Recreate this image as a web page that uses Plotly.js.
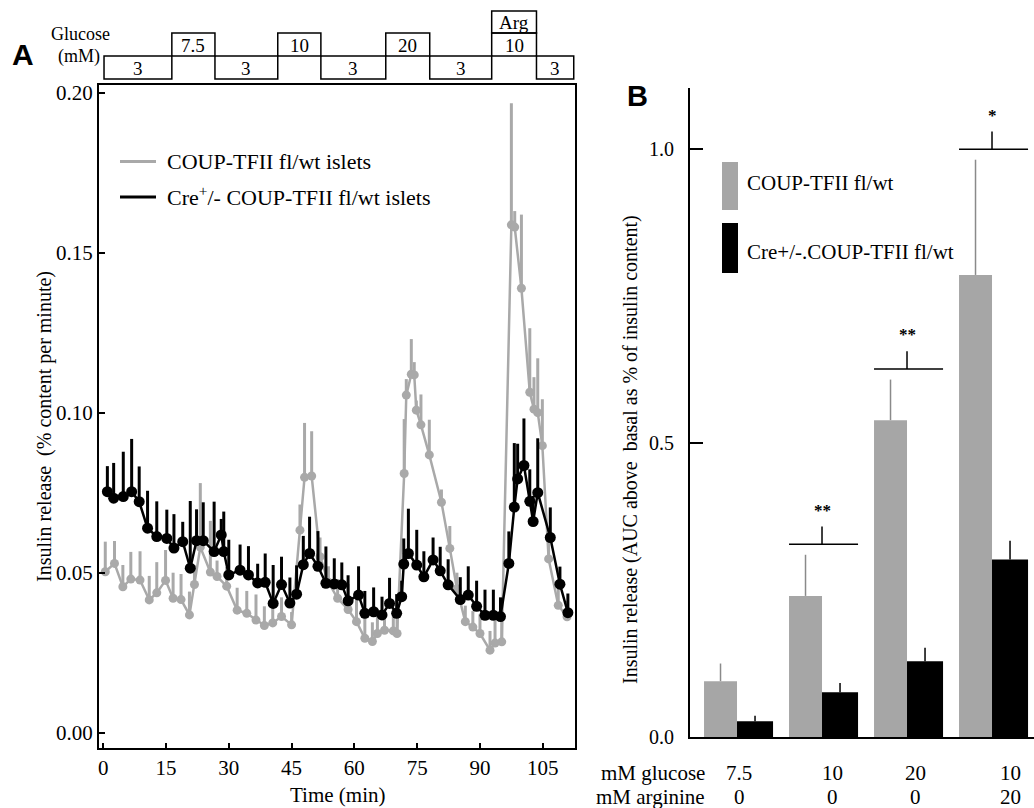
<!DOCTYPE html>
<html>
<head>
<meta charset="utf-8">
<script src="https://cdn.plot.ly/plotly-3.0.1.min.js"></script>
<style>html,body{margin:0;padding:0;background:#fff;}#chart{width:1034px;height:808px;}</style>
</head>
<body>
<div id="chart"></div>
<script>
// ---------- Panel A data (time in min, insulin release % content per minute) ----------
const wtT = [0.5, 2.7, 4.7, 6.6, 8.8, 11, 12.8, 14.9, 16.7, 18.6, 20.6, 21.8, 23.2, 25.6, 27.2, 29.5, 32, 34.3, 36.5, 38.5, 40.5, 42.6, 45, 47, 48.1, 49.8, 51.8, 53.8, 56, 58.5, 60.5, 62.5, 64.3, 65.5, 67.2, 69.3, 70.2, 71.9, 72.4, 73.6, 74.3, 74.8, 75.9, 77.9, 80.8, 82.8, 84.5, 86.5, 88.3, 90, 92.4, 93.6, 95.2, 97.5, 98.3, 99.9, 101.9, 102.9, 103.8, 104.9, 106.4, 108.7, 110.8];
const wtV = [0.0503, 0.0529, 0.0456, 0.0480, 0.0477, 0.0415, 0.0437, 0.0476, 0.0420, 0.0416, 0.0368, 0.0463, 0.0580, 0.0502, 0.0488, 0.0458, 0.0383, 0.0373, 0.0352, 0.0335, 0.0343, 0.0363, 0.0337, 0.0633, 0.0798, 0.0802, 0.0550, 0.0470, 0.0420, 0.0385, 0.0347, 0.0295, 0.0285, 0.0310, 0.0320, 0.0318, 0.0310, 0.0810, 0.1055, 0.1120, 0.1118, 0.1008, 0.0962, 0.0868, 0.0720, 0.0576, 0.0450, 0.0347, 0.0330, 0.0310, 0.0258, 0.0280, 0.0284, 0.1587, 0.1580, 0.1389, 0.1064, 0.1011, 0.1000, 0.0897, 0.0543, 0.0398, 0.0362];
const wtE = [0.0094, 0.007, 0.0068, 0.0085, 0.009, 0.0075, 0.0096, 0.0095, 0.008, 0.008, 0.0073, 0.006, 0.020, 0.016, 0.005, 0.006, 0.007, 0.007, 0.008, 0.006, 0.005, 0.006, 0.004, 0.008, 0.017, 0.014, 0.006, 0.005, 0.006, 0.008, 0.009, 0.008, 0.006, 0.006, 0.006, 0.007, 0.005, 0.017, 0.005, 0.011, 0.004, 0.003, 0.0095, 0.011, 0.004, 0.007, 0.005, 0.005, 0.005, 0.006, 0.006, 0.007, 0.008, 0.038, 0.005, 0.023, 0.020, 0.010, 0.017, 0.0145, 0.006, 0.006, 0.005];

const creT = [1, 2.5, 4.8, 6.8, 8.6, 10.6, 12.8, 15.2, 16.9, 19, 20.8, 22.3, 23.9, 26.5, 28.2, 28.8, 30, 32.7, 34.7, 36.9, 38.7, 40.6, 42.6, 44.6, 46.2, 47.8, 49.3, 51.3, 53.2, 55.2, 57, 58.5, 61, 62.5, 64.6, 66.6, 68.4, 70.1, 71.3, 71.8, 72.9, 74.9, 76.6, 78.8, 80.5, 82.4, 85.3, 87.2, 89.2, 91.2, 93.2, 94.9, 96.9, 98.2, 99, 100.5, 101.9, 102.7, 103.8, 106.8, 109.1, 111];
const creV = [0.0753, 0.0733, 0.0738, 0.0753, 0.0722, 0.0639, 0.0613, 0.0607, 0.0577, 0.0597, 0.0514, 0.0600, 0.0600, 0.0566, 0.0618, 0.0566, 0.0493, 0.0508, 0.0493, 0.0468, 0.0470, 0.0404, 0.0463, 0.0405, 0.0433, 0.0525, 0.0560, 0.0520, 0.0467, 0.0465, 0.0462, 0.0412, 0.0430, 0.0373, 0.0378, 0.0368, 0.0404, 0.0373, 0.0425, 0.0527, 0.0560, 0.0524, 0.0487, 0.0540, 0.0506, 0.0462, 0.0416, 0.0430, 0.0395, 0.0367, 0.0367, 0.0363, 0.0529, 0.0705, 0.0793, 0.0835, 0.0723, 0.0660, 0.0750, 0.0610, 0.0464, 0.0375];
const creE = [0.008, 0.011, 0.014, 0.0165, 0.011, 0.0117, 0.011, 0.009, 0.0106, 0.0062, 0.021, 0.0098, 0.012, 0.0156, 0.005, 0.0125, 0.011, 0.008, 0.009, 0.006, 0.009, 0.012, 0.0087, 0.008, 0.009, 0.009, 0.0115, 0.011, 0.0115, 0.008, 0.007, 0.008, 0.009, 0.007, 0.0076, 0.0057, 0.008, 0.006, 0.005, 0.008, 0.014, 0.011, 0.008, 0.007, 0.0075, 0.008, 0.007, 0.009, 0.008, 0.008, 0.008, 0.006, 0.010, 0.020, 0.011, 0.0147, 0.010, 0.008, 0.017, 0.0094, 0.0055, 0.006];

// Perifusion protocol (segment edges in min, glucose mM per segment)
const protocolEdges = [0.2, 16.4, 26.7, 41.7, 52, 67.5, 78, 92.8, 103.5, 112.4];
const protocolLabels = ['3', '7.5', '3', '10', '3', '20', '3', '10', '3'];
const protocolHigh = [false, true, false, true, false, true, false, true, false];
const protocolExtra = ['', '', '', '', '', '', '', 'Arg', ''];

// ---------- Panel B data ----------
const glucoseLbl = ['7.5', '10', '20', '10'];
const arginineLbl = ['0', '0', '0', '20'];
const wtB = [0.095, 0.240, 0.539, 0.786];
const wtBErr = [0.030, 0.070, 0.069, 0.196];
const creB = [0.027, 0.076, 0.129, 0.302];
const creBErr = [0.009, 0.016, 0.023, 0.032];
const sigMarks = ['', '**', '**', '*'];

// ---------- helpers ----------
const W = 1034, H = 808;
const px = x => x / W;
const py = y => 1 - y / H;
const SERIF = 'Liberation Serif, Times New Roman, DejaVu Serif, serif';
const SANS = 'Liberation Sans, Arial, sans-serif';
const GRAY = '#a9a9a9';
const BARGRAY = '#a6a6a6';

const annotations = [];
const shapes = [];
function ann(text, x, y, o) {
  o = o || {};
  annotations.push(Object.assign({
    text: text, xref: 'paper', yref: 'paper', x: px(x), y: py(y),
    xanchor: 'center', yanchor: 'middle', showarrow: false,
    font: {family: SERIF, size: 20, color: '#000'}
  }, o));
}

// ---------- traces ----------
const idx = glucoseLbl.map((_, i) => i);
const traces = [
  {
    x: wtT, y: wtV, type: 'scatter', mode: 'lines+markers', xaxis: 'x', yaxis: 'y',
    line: {color: GRAY, width: 2.5}, marker: {color: GRAY, size: 9},
    error_y: {type: 'data', array: wtE, arrayminus: wtE.map(() => 0), symmetric: false, width: 0, thickness: 3, color: GRAY},
    hoverinfo: 'skip'
  },
  {
    x: creT, y: creV, type: 'scatter', mode: 'lines+markers', xaxis: 'x', yaxis: 'y',
    line: {color: '#000', width: 2.5}, marker: {color: '#000', size: 11},
    error_y: {type: 'data', array: creE, arrayminus: creE.map(() => 0), symmetric: false, width: 0, thickness: 3, color: '#000'},
    hoverinfo: 'skip'
  },
  {
    x: idx, y: wtB, type: 'bar', xaxis: 'x2', yaxis: 'y2', width: 0.388, offset: -0.388,
    marker: {color: BARGRAY, line: {width: 0}},
    error_y: {type: 'data', array: wtBErr, arrayminus: wtBErr.map(() => 0), symmetric: false, width: 0, thickness: 1.5, color: '#8a8a8a'},
    hoverinfo: 'skip'
  },
  {
    x: idx, y: creB, type: 'bar', xaxis: 'x2', yaxis: 'y2', width: 0.424, offset: 0,
    marker: {color: '#000', line: {width: 0}},
    error_y: {type: 'data', array: creBErr, arrayminus: creBErr.map(() => 0), symmetric: false, width: 0, thickness: 1.5, color: '#000'},
    hoverinfo: 'skip'
  }
];

// ---------- protocol bar (above panel A) ----------
for (let i = 0; i < protocolLabels.length; i++) {
  const x0 = protocolEdges[i], x1 = protocolEdges[i + 1];
  const top = protocolHigh[i] ? 33 : 56, bot = protocolHigh[i] ? 56 : 79;
  shapes.push({type: 'rect', xref: 'x', yref: 'paper', x0: x0, x1: x1, y0: py(bot), y1: py(top),
    line: {color: '#000', width: 1.5}, fillcolor: 'rgba(0,0,0,0)'});
  annotations.push({text: protocolLabels[i], xref: 'x', yref: 'paper', x: (x0 + x1) / 2, y: py((top + bot) / 2 + 1),
    xanchor: 'center', yanchor: 'middle', showarrow: false, font: {family: SERIF, size: 19, color: '#000'}});
  if (protocolExtra[i]) {
    shapes.push({type: 'rect', xref: 'x', yref: 'paper', x0: x0, x1: x1, y0: py(33), y1: py(11),
      line: {color: '#000', width: 1.5}, fillcolor: 'rgba(0,0,0,0)'});
    annotations.push({text: protocolExtra[i], xref: 'x', yref: 'paper', x: (x0 + x1) / 2, y: py(22.5),
      xanchor: 'center', yanchor: 'middle', showarrow: false, font: {family: SERIF, size: 19, color: '#000'}});
  }
}
ann('Glucose', 80, 34, {font: {family: SERIF, size: 18, color: '#000'}});
ann('(mM)', 79, 56, {font: {family: SERIF, size: 18, color: '#000'}});
ann('A', 23, 54, {font: {family: SANS, size: 30, color: '#000', weight: 'bold'}});

// ---------- panel A legend ----------
shapes.push({type: 'line', xref: 'paper', yref: 'paper', x0: px(120), x1: px(156), y0: py(161.5), y1: py(161.5), line: {color: GRAY, width: 3}});
shapes.push({type: 'line', xref: 'paper', yref: 'paper', x0: px(120), x1: px(156), y0: py(197), y1: py(197), line: {color: '#000', width: 3}});
ann('COUP-TFII fl/wt islets', 165, 161, {xanchor: 'left', font: {family: SERIF, size: 22, color: '#000'}});
ann('Cre<sup>+</sup>/- COUP-TFII fl/wt islets', 165, 196, {xanchor: 'left', font: {family: SERIF, size: 22, color: '#000'}});

// ---------- panel A titles ----------
ann('Time (min)', 337, 795, {font: {family: SERIF, size: 21, color: '#000'}});
ann('Insulin release  (% content per minute)', 44, 427, {textangle: -90, font: {family: SERIF, size: 20, color: '#000'}});

// ---------- panel B extras ----------
ann('B', 637, 96, {font: {family: SANS, size: 29, color: '#000', weight: 'bold'}});
shapes.push({type: 'rect', xref: 'paper', yref: 'paper', x0: px(722), x1: px(738), y0: py(210), y1: py(162), line: {width: 0}, fillcolor: BARGRAY});
shapes.push({type: 'rect', xref: 'paper', yref: 'paper', x0: px(722), x1: px(738), y0: py(273), y1: py(223), line: {width: 0}, fillcolor: '#000'});
ann('COUP-TFII fl/wt', 745, 183, {xanchor: 'left', font: {family: SERIF, size: 21, color: '#000'}});
ann('Cre+/-.COUP-TFII fl/wt', 745, 252, {xanchor: 'left', font: {family: SERIF, size: 21, color: '#000'}});
ann('Insulin release (AUC above  basal as % of insulin content)', 630, 450, {textangle: -90, font: {family: SERIF, size: 20, color: '#000'}});
ann('mM glucose', 707, 773, {xanchor: 'right', font: {family: SERIF, size: 21, color: '#000'}});
ann('mM arginine', 707, 797, {xanchor: 'right', font: {family: SERIF, size: 21, color: '#000'}});
const labelShift = [2, 10, 8, 18];
idx.forEach(i => {
  annotations.push({text: glucoseLbl[i], xref: 'x2', yref: 'paper', x: i, xshift: labelShift[i], y: py(773), xanchor: 'center', yanchor: 'middle', showarrow: false, font: {family: SERIF, size: 21, color: '#000'}});
  annotations.push({text: arginineLbl[i], xref: 'x2', yref: 'paper', x: i, xshift: labelShift[i], y: py(797), xanchor: 'center', yanchor: 'middle', showarrow: false, font: {family: SERIF, size: 21, color: '#000'}});
  if (sigMarks[i]) {
    const top = Math.max(wtB[i] + wtBErr[i], creB[i] + creBErr[i]) + 0.018;
    shapes.push({type: 'line', xref: 'x2', yref: 'y2', x0: i - 0.388, x1: i + 0.424, y0: top, y1: top, line: {color: '#000', width: 1.5}});
    shapes.push({type: 'line', xref: 'x2', yref: 'y2', x0: i, x1: i, y0: top, y1: top + 0.03, line: {color: '#000', width: 1.5}});
    annotations.push({text: sigMarks[i], xref: 'x2', yref: 'y2', x: i, y: top + 0.058, xanchor: 'center', yanchor: 'middle', showarrow: false, font: {family: SERIF, size: 17, color: '#000', weight: 'bold'}});
  }
});

const axisFont = {family: SERIF, size: 21, color: '#000'};
const layout = {
  width: W, height: H,
  margin: {l: 0, r: 0, t: 0, b: 0},
  paper_bgcolor: '#fff', plot_bgcolor: '#fff',
  showlegend: false,
  barmode: 'overlay',
  xaxis: {
    domain: [px(99), px(575)], range: [-1, 112.7], anchor: 'y',
    tickvals: [0, 15, 30, 45, 60, 75, 90, 105], ticks: 'inside', ticklen: 5, tickwidth: 2, tickcolor: '#000',
    showline: true, linewidth: 2, linecolor: '#000', mirror: true, showgrid: false, zeroline: false,
    tickfont: axisFont
  },
  yaxis: {
    domain: [py(748), py(85)], range: [-0.00478, 0.2024], anchor: 'x',
    tickvals: [0, 0.05, 0.10, 0.15, 0.20], tickformat: '.2f', ticks: 'inside', ticklen: 6, tickwidth: 2, tickcolor: '#000',
    showline: true, linewidth: 2, linecolor: '#000', mirror: true, showgrid: false, zeroline: false,
    tickfont: axisFont
  },
  xaxis2: {
    domain: [px(690), 1], range: [-0.553, 3.494], anchor: 'y2',
    showticklabels: false, ticks: '', showline: true, linewidth: 2, linecolor: '#000', showgrid: false, zeroline: false
  },
  yaxis2: {
    domain: [py(737), py(88)], range: [0, 1.104], anchor: 'x2',
    tickvals: [0, 0.5, 1.0], ticktext: ['0.0', '0.5', '1.0'], ticks: 'inside', ticklen: 13, tickwidth: 2, tickcolor: '#000',
    ticklabelstandoff: 10,
    showline: true, linewidth: 2, linecolor: '#000', showgrid: false, zeroline: false,
    tickfont: {family: SERIF, size: 20, color: '#000'}
  },
  shapes: shapes,
  annotations: annotations
};

Plotly.newPlot('chart', traces, layout, {staticPlot: true, displayModeBar: false});
</script>
</body>
</html>
